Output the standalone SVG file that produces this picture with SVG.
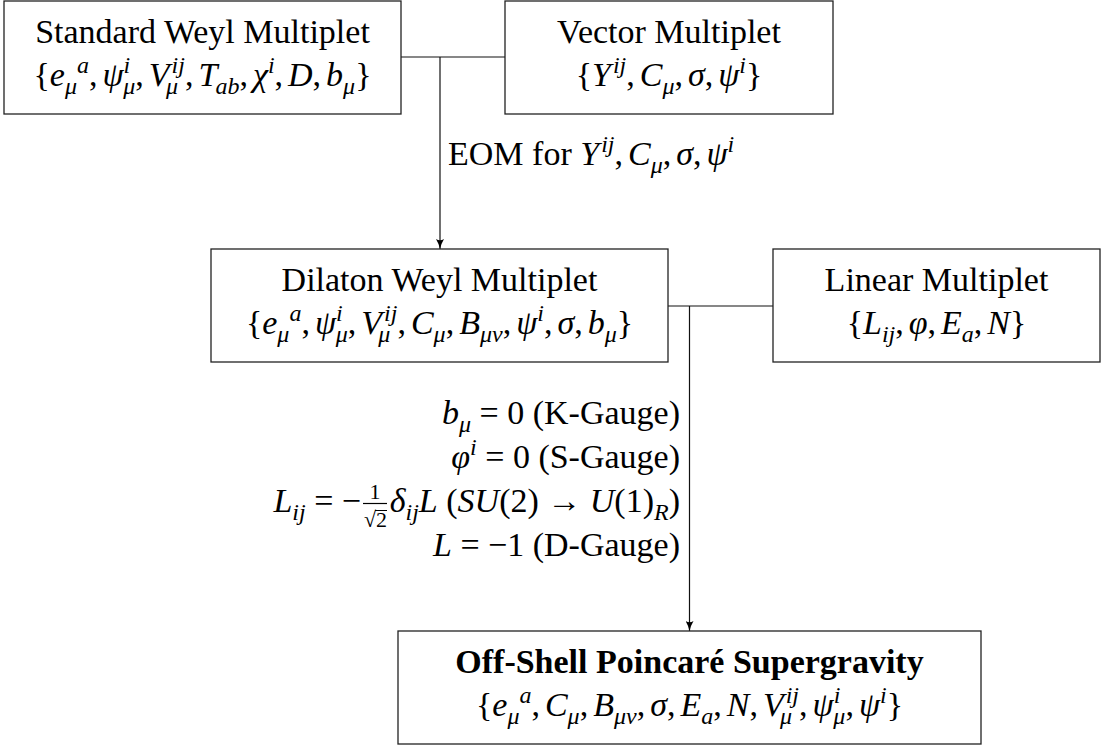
<svg xmlns="http://www.w3.org/2000/svg" width="1102" height="747" viewBox="0 0 1102 747" font-family="Liberation Serif, DejaVu Serif, serif">
<style>
.box{fill:#fff;stroke:#222;stroke-width:1.3}
.ln{fill:none;stroke:#111;stroke-width:1.2}
text{font-size:34px;fill:#000}
.c{text-anchor:middle}
.e{text-anchor:end}
.i{font-style:italic}
.s{font-size:24px;font-style:italic}
.b{font-weight:bold}
</style>
<defs>
<marker id="arr" viewBox="0 0 10 8" refX="10" refY="4" markerWidth="10" markerHeight="8" orient="auto" markerUnits="userSpaceOnUse">
<path d="M0,0 Q5,3 10,4 Q5,5 0,8 Q2.5,4 0,0 z" fill="#000"/>
</marker>
</defs>
<rect width="1102" height="747" fill="#fff"/>

<g id="connectors">
<line class="ln" x1="401" y1="57" x2="505" y2="57"/>
<line class="ln" x1="440" y1="57" x2="440" y2="249" marker-end="url(#arr)"/>
<line class="ln" x1="668" y1="306" x2="773" y2="306"/>
<line class="ln" x1="689.5" y1="306" x2="689.5" y2="631" marker-end="url(#arr)"/>
</g>

<g id="standard-weyl">
<rect class="box" x="4" y="1" width="397" height="113"/>
<text class="c" x="202.5" y="43">Standard Weyl Multiplet</text>
<text class="c" x="202.5" y="86"><tspan>{</tspan><tspan class="i">e</tspan><tspan class="s" dy="8">μ</tspan><tspan class="s" dy="-21">a</tspan><tspan dy="13">,</tspan><tspan class="i" dx="5">ψ</tspan><tspan class="s" dy="-13">i</tspan><tspan class="s" dx="-7" dy="21">μ</tspan><tspan dy="-8">,</tspan><tspan class="i" dx="5">V</tspan><tspan class="s" dx="2" dy="-13">ij</tspan><tspan class="s" dx="-19" dy="21">μ</tspan><tspan dx="7" dy="-8">,</tspan><tspan class="i" dx="5">T</tspan><tspan class="s" dx="-2" dy="8">ab</tspan><tspan dy="-8">,</tspan><tspan class="i" dx="5">χ</tspan><tspan class="s" dy="-13">i</tspan><tspan dy="13">,</tspan><tspan class="i" dx="5">D</tspan><tspan>,</tspan><tspan class="i" dx="5">b</tspan><tspan class="s" dy="8">μ</tspan><tspan dy="-8">}</tspan></text>
</g>

<g id="vector">
<rect class="box" x="505" y="1" width="328" height="113"/>
<text class="c" x="669" y="43">Vector Multiplet</text>
<text class="c" x="669" y="86"><tspan>{</tspan><tspan class="i">Y</tspan><tspan class="s" dx="2" dy="-13">ij</tspan><tspan dy="13">,</tspan><tspan class="i" dx="5">C</tspan><tspan class="s" dy="8">μ</tspan><tspan dy="-8">,</tspan><tspan class="i" dx="5">σ</tspan><tspan>,</tspan><tspan class="i" dx="5">ψ</tspan><tspan class="s" dy="-13">i</tspan><tspan dy="13">}</tspan></text>
</g>

<g id="eom-label">
<text x="448" y="165"><tspan>EOM for </tspan><tspan class="i">Y</tspan><tspan class="s" dx="2" dy="-13">ij</tspan><tspan dy="13">,</tspan><tspan class="i" dx="5">C</tspan><tspan class="s" dy="8">μ</tspan><tspan dy="-8">,</tspan><tspan class="i" dx="5">σ</tspan><tspan>,</tspan><tspan class="i" dx="5">ψ</tspan><tspan class="s" dy="-13">i</tspan></text>
</g>

<g id="dilaton-weyl">
<rect class="box" x="211" y="249" width="457" height="113"/>
<text class="c" x="439.5" y="291">Dilaton Weyl Multiplet</text>
<text class="c" x="439.5" y="334"><tspan>{</tspan><tspan class="i">e</tspan><tspan class="s" dy="8">μ</tspan><tspan class="s" dy="-21">a</tspan><tspan dy="13">,</tspan><tspan class="i" dx="5">ψ</tspan><tspan class="s" dy="-13">i</tspan><tspan class="s" dx="-7" dy="21">μ</tspan><tspan dy="-8">,</tspan><tspan class="i" dx="5">V</tspan><tspan class="s" dx="2" dy="-13">ij</tspan><tspan class="s" dx="-19" dy="21">μ</tspan><tspan dx="7" dy="-8">,</tspan><tspan class="i" dx="5">C</tspan><tspan class="s" dy="8">μ</tspan><tspan dy="-8">,</tspan><tspan class="i" dx="5">B</tspan><tspan class="s" dy="8">μν</tspan><tspan dy="-8">,</tspan><tspan class="i" dx="5">ψ</tspan><tspan class="s" dy="-13">i</tspan><tspan dy="13">,</tspan><tspan class="i" dx="5">σ</tspan><tspan>,</tspan><tspan class="i" dx="5">b</tspan><tspan class="s" dy="8">μ</tspan><tspan dy="-8">}</tspan></text>
</g>

<g id="linear">
<rect class="box" x="773" y="249" width="327" height="113"/>
<text class="c" x="936.5" y="291">Linear Multiplet</text>
<text class="c" x="936.5" y="334"><tspan>{</tspan><tspan class="i">L</tspan><tspan class="s" dy="8">ij</tspan><tspan dy="-8">,</tspan><tspan class="i" dx="5">φ</tspan><tspan>,</tspan><tspan class="i" dx="5">E</tspan><tspan class="s" dy="8">a</tspan><tspan dy="-8">,</tspan><tspan class="i" dx="5">N</tspan><tspan>}</tspan></text>
</g>

<g id="gauge-labels">
<text class="e" x="680" y="424"><tspan class="i">b</tspan><tspan class="s" dy="8">μ</tspan><tspan dy="-8"> = 0 (K-Gauge)</tspan></text>
<text class="e" x="680" y="468"><tspan class="i">φ</tspan><tspan class="s" dy="-13">i</tspan><tspan dy="13"> = 0 (S-Gauge)</tspan></text>
<text class="e" x="361" y="512"><tspan class="i">L</tspan><tspan class="s" dy="8">ij</tspan><tspan dy="-8"> = −</tspan></text>
<text class="c" x="375" y="499" style="font-size:22px">1</text>
<line x1="363" y1="503.5" x2="387" y2="503.5" stroke="#000" stroke-width="1.2"/>
<text x="364" y="527" style="font-size:22px">√</text>
<line x1="375" y1="510.5" x2="387" y2="510.5" stroke="#000" stroke-width="1"/>
<text x="376" y="527" style="font-size:22px">2</text>
<text class="e" x="680" y="512"><tspan class="i">δ</tspan><tspan class="s" dy="8">ij</tspan><tspan class="i" dy="-8">L</tspan><tspan> (</tspan><tspan class="i">SU</tspan><tspan>(2) → </tspan><tspan class="i">U</tspan><tspan>(1)</tspan><tspan class="s" dy="8">R</tspan><tspan dy="-8">)</tspan></text>
<text class="e" x="680" y="556"><tspan class="i">L</tspan><tspan> = −1 (D-Gauge)</tspan></text>
</g>

<g id="poincare">
<rect class="box" x="398" y="631" width="583" height="113"/>
<text class="c b" x="689.5" y="673">Off-Shell Poincaré Supergravity</text>
<text class="c" x="689.5" y="716"><tspan>{</tspan><tspan class="i">e</tspan><tspan class="s" dy="8">μ</tspan><tspan class="s" dy="-21">a</tspan><tspan dy="13">,</tspan><tspan class="i" dx="5">C</tspan><tspan class="s" dy="8">μ</tspan><tspan dy="-8">,</tspan><tspan class="i" dx="5">B</tspan><tspan class="s" dy="8">μν</tspan><tspan dy="-8">,</tspan><tspan class="i" dx="5">σ</tspan><tspan>,</tspan><tspan class="i" dx="5">E</tspan><tspan class="s" dy="8">a</tspan><tspan dy="-8">,</tspan><tspan class="i" dx="5">N</tspan><tspan>,</tspan><tspan class="i" dx="5">V</tspan><tspan class="s" dx="2" dy="-13">ij</tspan><tspan class="s" dx="-19" dy="21">μ</tspan><tspan dx="7" dy="-8">,</tspan><tspan class="i" dx="5">ψ</tspan><tspan class="s" dy="-13">i</tspan><tspan class="s" dx="-7" dy="21">μ</tspan><tspan dy="-8">,</tspan><tspan class="i" dx="5">ψ</tspan><tspan class="s" dy="-13">i</tspan><tspan dy="13">}</tspan></text>
</g>
</svg>
